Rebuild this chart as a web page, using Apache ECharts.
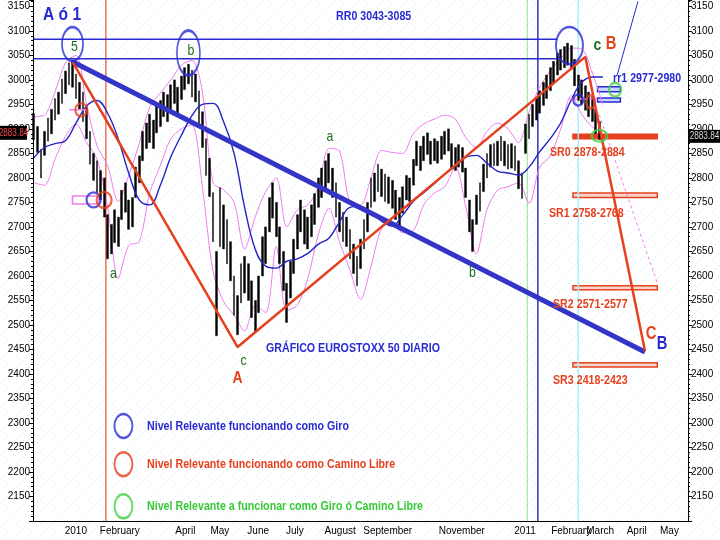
<!DOCTYPE html>
<html>
<head>
<meta charset="utf-8">
<title>Gráfico EuroStoxx 50 diario</title>
<script src="https://cdn.jsdelivr.net/npm/echarts@6/dist/echarts.min.js"></script>
<style>
  html, body { margin: 0; padding: 0; background: #fff; }
  #chart { width: 720px; height: 540px; }
</style>
</head>
<body>
<div id="chart"></div>
<script>
// ---- datos ----
// sesiones del eje (dias habiles), de donde salen las categorias
var firstDay = '2009-12-04';
var lastDay = '2011-05-24';
var holidays = ['2009-12-24', '2009-12-25', '2009-12-31', '2010-01-01', '2010-04-02', '2010-04-05',
  '2010-12-24', '2010-12-31', '2011-04-22', '2011-04-25'];
var monthKeys = ['2010-01', '2010-02', '2010-03', '2010-04', '2010-05', '2010-06', '2010-07', '2010-08',
  '2010-09', '2010-10', '2010-11', '2010-12', '2011-01', '2011-02', '2011-03', '2011-04', '2011-05'];
var monthLabels = ['2010', 'February', '', 'April', 'May', 'June', 'July', 'August',
  'September', '', 'November', '', '2011', 'February', 'March', 'April', 'May'];

// barras de precio: una cada PRICE_STEP sesiones desde la primera
var PRICE_STEP = 2;
var priceLow = [2878, 2852, 2800, 2846, 2875, 2890, 2918, 2930, 2952, 2972, 2990, 2985, 2962, 2940, 2915, 2880,
  2828, 2795, 2770, 2755, 2720, 2635, 2645, 2668, 2660, 2715, 2730, 2695, 2700, 2760, 2790, 2835,
  2860, 2872, 2860, 2892, 2905, 2925, 2915, 2940, 2952, 2932, 2960, 2980, 2992, 2965, 2955, 2910,
  2862, 2805, 2762, 2670, 2478, 2660, 2655, 2625, 2590, 2520, 2480, 2545, 2565, 2550, 2515, 2485,
  2525, 2600, 2625, 2690, 2718, 2680, 2625, 2570, 2505, 2555, 2605, 2655, 2690, 2665, 2655, 2680,
  2705, 2740, 2760, 2775, 2790, 2760, 2720, 2690, 2670, 2660, 2635, 2605, 2580, 2615, 2655, 2690,
  2740, 2752, 2772, 2762, 2752, 2748, 2738, 2715, 2700, 2728, 2755, 2752, 2785, 2825, 2815, 2835,
  2848, 2828, 2835, 2830, 2838, 2848, 2855, 2820, 2815, 2822, 2812, 2760, 2690, 2650, 2705, 2732,
  2772, 2800, 2822, 2825, 2825, 2835, 2825, 2818, 2820, 2815, 2778, 2758, 2850, 2880, 2905, 2918,
  2932, 2948, 2962, 2978, 2992, 3010, 3020, 3025, 3030, 3022, 2988, 2958, 2950, 2938, 2925, 2915,
  2890, 2878];
var priceHigh = [2932, 2905, 2858, 2895, 2922, 2940, 2962, 2975, 3002, 3018, 3035, 3040, 3012, 2995, 2975, 2945,
  2895, 2850, 2835, 2815, 2800, 2725, 2705, 2735, 2720, 2775, 2790, 2755, 2760, 2822, 2845, 2895,
  2912, 2930, 2918, 2948, 2958, 2975, 2970, 2990, 3000, 2985, 3008, 3025, 3032, 3020, 3012, 2978,
  2935, 2880, 2840, 2770, 2650, 2780, 2745, 2715, 2670, 2600, 2560, 2625, 2640, 2625, 2590, 2550,
  2600, 2680, 2700, 2760, 2790, 2750, 2700, 2650, 2585, 2630, 2675, 2725, 2755, 2735, 2720, 2745,
  2768, 2800, 2820, 2835, 2850, 2820, 2790, 2750, 2730, 2720, 2695, 2665, 2640, 2675, 2715, 2750,
  2800, 2810, 2828, 2818, 2808, 2802, 2795, 2775, 2760, 2782, 2805, 2800, 2838, 2875, 2865, 2885,
  2892, 2875, 2880, 2875, 2885, 2895, 2900, 2870, 2862, 2868, 2862, 2820, 2755, 2715, 2765, 2790,
  2828, 2850, 2868, 2870, 2875, 2885, 2875, 2868, 2870, 2865, 2835, 2810, 2910, 2930, 2950, 2962,
  2978, 2995, 3010, 3025, 3038, 3055, 3062, 3068, 3075, 3070, 3042, 3010, 3000, 2988, 2975, 2965,
  2940, 2915];
var lastClose = 2883.84;

// media movil y bandas: un valor cada BAND_STEP sesiones
var BAND_STEP = 6;
var maLine = [2841, 2862, 2870, 2876, 2912, 2947, 2958, 2932, 2880, 2810, 2755, 2745, 2785, 2843,
  2887, 2927, 2950, 2952, 2915, 2850, 2740, 2655, 2620, 2616, 2630, 2635, 2646, 2665, 2677, 2710,
  2740, 2742, 2730, 2712, 2702, 2724, 2752, 2770, 2788, 2808, 2824, 2842, 2846, 2830, 2814, 2810,
  2806, 2822, 2853, 2880, 2912, 2959, 2995, 3006, 3006];
var bandUpper = [2925, 2928, 2975, 3035, 3050, 2950, 2865, 2825, 2752, 2805, 2870, 2945, 2973, 3000,
  3030, 3040, 2975, 2790, 2776, 2750, 2655, 2720, 2772, 2800, 2700, 2735, 2745, 2780, 2860, 2855,
  2750, 2745, 2800, 2856, 2852, 2850, 2890, 2910, 2920, 2928, 2920, 2882, 2862, 2895, 2912, 2900,
  2872, 2935, 2985, 3018, 3043, 3065, 3063, 3015, 2950];
var bandLower = [2790, 2785, 2838, 2885, 2910, 2872, 2838, 2740, 2595, 2662, 2670, 2770, 2825, 2880,
  2900, 2908, 2780, 2610, 2548, 2520, 2488, 2540, 2525, 2660, 2530, 2540, 2595, 2685, 2738, 2670,
  2612, 2552, 2620, 2697, 2710, 2688, 2692, 2745, 2769, 2782, 2822, 2740, 2645, 2735, 2775, 2782,
  2790, 2748, 2822, 2845, 2900, 2968, 2930, 2904, 2895];

// lineas de tendencia [sesion, nivel]
var trendBlue = [[22, 3037], [348, 2445]];
var trendRed = [[22, 3037], [116, 2455], [314, 3047], [348, 2447]];
var trendBlueUp = [[332, 3008], [344, 3160]];
var projPink = [[322, 2929], [355, 2586]];
var rr0Levels = [3043, 3083];
var rr0End = 298;

// lineas verticales (sesion)
var vRed = 41, vGreen = 281, vBlue = 287, vCyan = 310;

// zonas: [sesion inicio, sesion fin, nivel bajo, nivel alto]
var srZones = [[307, 355, 2880, 2889], [307, 355, 2760, 2769], [307, 355, 2572, 2580], [307, 355, 2414, 2423]];
var rr1Zones = [[321, 334, 2976, 2986], [321, 334, 2955, 2963]];
var pinkZone = [22, 37, 2747, 2763];
var pinkTicks = [[[20, 2939], [30, 2939]], [[305, 2961], [322, 2961]]];

// circulos [sesion, nivel, ancho, alto, tipo]
var circles = [
  [22, 3073, 21, 34, 'giro'], [88, 3055, 23, 45, 'giro'], [305, 3070, 27, 37, 'giro'],
  [310, 2959, 10, 11, 'giro'], [317, 2955, 9, 13, 'libre'], [331, 2980, 12, 14, 'aFuncionar'],
  [322, 2886, 15, 12, 'aFuncionar'], [27, 2939, 12, 13, 'libre'], [34, 2755, 14, 15, 'giro'],
  [40, 2755, 15, 16, 'libre'],
  [51, 2294, 18, 24, 'giro'], [51, 2216, 18, 24, 'libre'], [51, 2130, 18, 24, 'aFuncionar']
];

var BLUE = '#2a2ad2', RED = '#e6401e', GREEN = '#38c838', DKGREEN = '#1f6e1f', PINK = '#f07cf0';
var circleColor = { giro: '#2a2ad2', libre: '#e6401e', aFuncionar: '#44d044' };
var FONT = "'Liberation Sans', Arial, sans-serif";
var NARROW = 0.82; // estrechado tipo Arial Narrow

// ---- eje de sesiones ----
function isoDay(d) { return d.toISOString().slice(0, 10); }
var days = [];
for (var d = new Date(firstDay + 'T00:00:00Z'); isoDay(d) <= lastDay; d.setUTCDate(d.getUTCDate() + 1)) {
  var wd = d.getUTCDay();
  if (wd === 0 || wd === 6) continue;
  if (holidays.indexOf(isoDay(d)) >= 0) continue;
  days.push(isoDay(d));
}
function monthStart(i) { return i > 0 && days[i].slice(0, 7) !== days[i - 1].slice(0, 7); }
function weekStart(i) {
  if (i === 0) return false;
  var a = new Date(days[i] + 'T00:00:00Z').getUTCDay();
  var b = new Date(days[i - 1] + 'T00:00:00Z').getUTCDay();
  return a < b;
}
function monthLabel(day) {
  var k = monthKeys.indexOf(day.slice(0, 7));
  return k >= 0 ? monthLabels[k] : '';
}

// ---- series ----
var barData = priceLow.map(function (lo, i) { return [i * PRICE_STEP, lo, priceHigh[i], lo, priceHigh[i]]; });
function stepped(arr) { return arr.map(function (v, k) { return [k * BAND_STEP, v]; }); }

function seg(data, color, width, type, z) {
  return {
    type: 'line', data: data, symbol: 'none', silent: true, z: z || 5,
    lineStyle: { color: color, width: width, type: type || 'solid' }
  };
}

var series = [
  { type: 'line', data: stepped(bandUpper), symbol: 'none', smooth: 0.3, z: 2, lineStyle: { color: PINK, width: 1 } },
  { type: 'line', data: stepped(bandLower), symbol: 'none', smooth: 0.3, z: 2, lineStyle: { color: PINK, width: 1 } },
  seg([[vRed, 2100], [vRed, 3163]], '#e8502a', 1.2, 'solid', 1),
  seg([[vGreen, 2100], [vGreen, 3163]], '#8ee88e', 1, 'solid', 1),
  seg([[vBlue, 2100], [vBlue, 3163]], '#2424b4', 1.4, 'solid', 1),
  seg([[vCyan, 2100], [vCyan, 3163]], '#a6eef6', 1.4, 'solid', 1),
  {
    type: 'candlestick', data: barData, encode: { x: 0, y: [1, 2, 3, 4] }, barWidth: 2.3, z: 3,
    itemStyle: { color: '#000', color0: '#000', borderColor: '#000', borderColor0: '#000', borderWidth: 0.4 }
  },
  { type: 'line', data: stepped(maLine), symbol: 'none', smooth: 0.4, z: 4, lineStyle: { color: '#2323c4', width: 1.4 } },
  seg([[0, rr0Levels[0]], [rr0End, rr0Levels[0]]], BLUE, 1.5),
  seg([[0, rr0Levels[1]], [rr0End, rr0Levels[1]]], BLUE, 1.5),
  seg(trendBlue, '#3434c6', 5, 'solid', 6),
  seg(trendRed, RED, 2.5, 'solid', 7),
  seg(trendBlueUp, BLUE, 1, 'solid', 6),
  seg(projPink, PINK, 1, [3, 3], 6),
  seg(pinkTicks[0], PINK, 1.5, 'solid', 8),
  seg(pinkTicks[1], PINK, 1.5, [3, 2], 8),
  {
    type: 'line', data: [], z: 8, silent: true,
    markArea: {
      silent: true,
      data: srZones.map(function (s, i) {
        return [{
          coord: [s[0], s[2]],
          itemStyle: { color: i === 0 ? RED : '#f9d6cc', borderColor: RED, borderWidth: 1.5 }
        }, { coord: [s[1], s[3]] }];
      }).concat(rr1Zones.map(function (s) {
        return [{
          coord: [s[0], s[2]],
          itemStyle: { color: '#c9d6ff', borderColor: BLUE, borderWidth: 1.5 }
        }, { coord: [s[1], s[3]] }];
      })).concat([[{
        coord: [pinkZone[0], pinkZone[2]],
        itemStyle: { color: 'rgba(255,255,255,0.6)', borderColor: PINK, borderWidth: 1.5 }
      }, { coord: [pinkZone[1], pinkZone[3]] }]])
    }
  },
  {
    type: 'scatter', z: 9, silent: true,
    data: circles.map(function (c) {
      return {
        value: [c[0], c[1]], symbol: 'circle', symbolSize: [c[2], c[3]],
        itemStyle: { color: 'rgba(0,0,0,0)', borderColor: circleColor[c[4]], borderWidth: 2.2 }
      };
    })
  }
];

// ---- textos ----
function txt(x, y, s, color, size, bold, align) {
  return {
    type: 'text', x: x, y: y, z: 50, silent: true, scaleX: NARROW,
    style: {
      text: s, fill: color, align: align || 'left', verticalAlign: 'middle',
      font: (bold === false ? '' : 'bold ') + size + 'px ' + FONT
    }
  };
}
var texts = [
  txt(43, 15, 'A ó 1', BLUE, 19),
  txt(336, 16, 'RR0 3043-3085', BLUE, 13),
  txt(613, 78, 'rr1 2977-2980', BLUE, 13),
  txt(550, 152, 'SR0 2878-2884', RED, 13),
  txt(549, 213, 'SR1 2758-2768', RED, 13),
  txt(553, 304, 'SR2 2571-2577', RED, 13),
  txt(553, 380, 'SR3 2418-2423', RED, 13),
  txt(266, 348, 'GRÁFICO EUROSTOXX 50 DIARIO', BLUE, 13),
  txt(74.5, 47, '5', DKGREEN, 15, false, 'center'),
  txt(191, 51, 'b', DKGREEN, 15, false, 'center'),
  txt(113.5, 274, 'a', DKGREEN, 15, false, 'center'),
  txt(243.5, 361, 'c', DKGREEN, 15, false, 'center'),
  txt(237.5, 378, 'A', RED, 17, true, 'center'),
  txt(330, 137, 'a', DKGREEN, 15, false, 'center'),
  txt(472.5, 273, 'b', DKGREEN, 15, false, 'center'),
  txt(597.5, 45, 'c', DKGREEN, 17, true, 'center'),
  txt(611, 44, 'B', RED, 18, true, 'center'),
  txt(651, 334, 'C', RED, 18, true, 'center'),
  txt(662, 344, 'B', BLUE, 18, true, 'center'),
  txt(147, 426, 'Nivel Relevante funcionando como Giro', BLUE, 13),
  txt(147, 464, 'Nivel Relevante funcionando como Camino Libre', RED, 13),
  txt(147, 506, 'Nivel Relevante a funcionar como Giro ó Camino Libre', GREEN, 13)
];

// fondo punteado
var pat = document.createElement('canvas');
pat.width = 12; pat.height = 12;
var pctx = pat.getContext('2d');
pctx.fillStyle = '#c4eef2';
for (var p = 0; p < 4; p++) { pctx.fillRect(p * 3 + 1, 10 - p * 3, 1, 1); }

var yAxisBase = {
  type: 'value', min: 2100, max: 3163, interval: 50,
  splitLine: { show: false },
  axisLine: { show: true, lineStyle: { color: '#000', width: 1 } },
  axisTick: { show: true, length: 4, lineStyle: { color: '#000' } },
  minorTick: { show: true, splitNumber: 5, length: 2, lineStyle: { color: '#000' } },
  axisLabel: {
    color: '#000', fontSize: 10, margin: 3, showMinLabel: false, showMaxLabel: false, fontFamily: FONT,
    formatter: function (v) { return String(v); }
  }
};

var chart = echarts.init(document.getElementById('chart'));
var option = {
  animation: false,
  backgroundColor: { image: pat, repeat: 'repeat' },
  textStyle: { fontFamily: FONT },
  grid: { left: 33, right: 32, top: 0, bottom: 19, show: true, backgroundColor: 'rgba(0,0,0,0)', borderWidth: 0 },
  xAxis: [{
    type: 'category', data: days, boundaryGap: true,
    axisLine: { lineStyle: { color: '#000', width: 1 } },
    axisTick: { interval: function (i) { return monthStart(i); }, length: 17, lineStyle: { color: '#000' } },
    axisLabel: {
      interval: function (i) { return monthStart(i) && monthLabel(days[i]) !== ''; },
      formatter: function (v) { return monthLabel(v); },
      color: '#000', fontSize: 10, align: 'left', margin: 5, padding: [0, 0, 0, 1], fontFamily: FONT
    },
    splitLine: { show: false }
  }, {
    type: 'category', data: days, boundaryGap: true, position: 'bottom',
    axisLine: { show: false },
    axisTick: { interval: function (i) { return weekStart(i); }, length: 4, lineStyle: { color: '#000' } },
    axisLabel: { show: false },
    splitLine: { show: false }
  }],
  yAxis: [
    echarts.util.merge({ position: 'left' }, yAxisBase, true),
    echarts.util.merge({ position: 'right' }, yAxisBase, true)
  ],
  series: series,
  graphic: texts
};
chart.setOption(option);

// etiqueta del ultimo cierre sobre ambos ejes
var yLast = chart.convertToPixel({ yAxisIndex: 0 }, lastClose);
chart.setOption({
  graphic: texts.concat([
    { type: 'rect', z: 60, silent: true, shape: { x: 0, y: yLast - 11, width: 27, height: 14 }, style: { fill: '#000' } },
    { type: 'text', z: 61, silent: true, x: 13.5, y: yLast - 4, scaleX: NARROW, style: { text: lastClose.toFixed(2), fill: '#ff4a4a', align: 'center', verticalAlign: 'middle', font: '10px ' + FONT } },
    { type: 'rect', z: 60, silent: true, shape: { x: 689, y: yLast - 7, width: 31, height: 13 }, style: { fill: '#000' } },
    { type: 'text', z: 61, silent: true, x: 704.5, y: yLast - 0.5, scaleX: NARROW, style: { text: lastClose.toFixed(2), fill: '#d8d8d8', align: 'center', verticalAlign: 'middle', font: '10px ' + FONT } }
  ])
});
</script>
</body>
</html>
